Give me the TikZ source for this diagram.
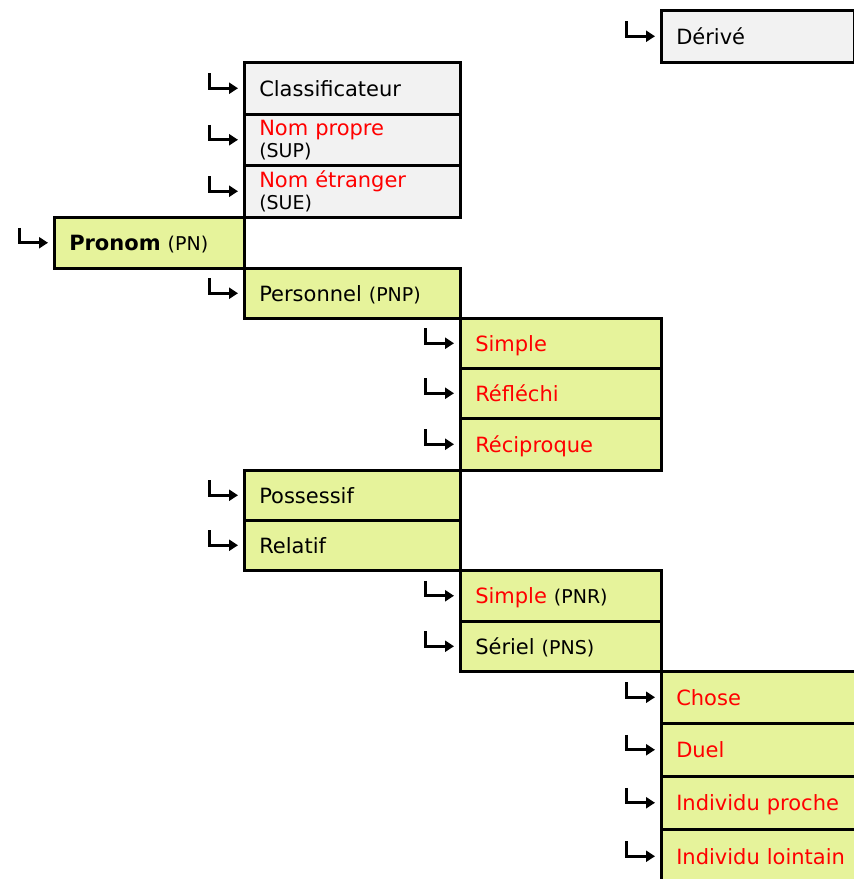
\documentclass[tikz,border=0pt]{standalone}
\usepackage{fontspec}
\setmainfont{DejaVu Sans}
\usepackage{tikz}
\usetikzlibrary{arrows.meta}

\definecolor{gris}{HTML}{F2F2F2}
\definecolor{vert}{HTML}{E6F39B}
\newcommand{\sigle}[1]{{\fontsize{19}{21}\selectfont #1}}
\newcommand{\rouge}[1]{\textcolor{red}{#1}}

\tikzset{
  cell/.style={draw, line width=2.5pt, anchor=north west, inner xsep=15pt, inner ysep=0pt,
    align=left, text height=17pt, text depth=1pt, font=\fontsize{21}{22}\selectfont},
  hook/.style={line width=3pt, -{Triangle[length=9pt,width=11pt]}}
}

\begin{document}
\begin{tikzpicture}[x=1pt,y=-1pt]
        \useasboundingbox (0,0) rectangle (854,879);

        \node[cell, fill=gris, text width=163pt, minimum height=52pt] (der) at (660,9) {Dérivé};
        \node[cell, fill=gris, text width=186pt, minimum height=52pt] (cls) at (243,61) {Classificateur};
        \node[cell, fill=gris, text width=186pt, minimum height=51pt, text height=, text depth=] (sup) at (243,113) {\rouge{Nom propre}\\\sigle{(SUP)}};
        \node[cell, fill=gris, text width=186pt, minimum height=52pt, text height=, text depth=] (sue) at (243,164) {\rouge{Nom étranger}\\\sigle{(SUE)}};
        \node[cell, fill=vert, text width=160pt, minimum height=51pt] (pn) at (53,216) {\textbf{Pronom} \sigle{(PN)}};
        \node[cell, fill=vert, text width=186pt, minimum height=50pt] (pnp) at (243,267) {Personnel \sigle{(PNP)}};
        \node[cell, fill=vert, text width=171pt, minimum height=50pt] (smp) at (459,317) {\rouge{Simple}};
        \node[cell, fill=vert, text width=171pt, minimum height=50pt] (ref) at (459,367) {\rouge{Réfléchi}};
        \node[cell, fill=vert, text width=171pt, minimum height=52pt] (rec) at (459,417) {\rouge{Réciproque}};
        \node[cell, fill=vert, text width=186pt, minimum height=50pt] (pos) at (243,469) {Possessif};
        \node[cell, fill=vert, text width=186pt, minimum height=50pt] (rel) at (243,519) {Relatif};
        \node[cell, fill=vert, text width=171pt, minimum height=51pt] (pnr) at (459,569) {\rouge{Simple} \sigle{(PNR)}};
        \node[cell, fill=vert, text width=171pt, minimum height=50pt] (pns) at (459,620) {Sériel \sigle{(PNS)}};
        \node[cell, fill=vert, text width=180pt, minimum height=52pt] (cho) at (660,670) {\rouge{Chose}};
        \node[cell, fill=vert, text width=180pt, minimum height=53pt] (due) at (660,722) {\rouge{Duel}};
        \node[cell, fill=vert, text width=180pt, minimum height=53pt] (ipr) at (660,775) {\rouge{Individu proche}};
        \node[cell, fill=vert, text width=180pt, minimum height=54pt] (ilo) at (660,828) {\rouge{Individu lointain}};

        % fleches
        \foreach \n in {der,cls,sup,sue,pn,pnp,smp,ref,rec,pos,rel,pnr,pns,cho,due,ipr,ilo}
          \draw[hook] ([xshift=-34pt,yshift=15pt]\n.west) |- ([xshift=-5pt]\n.west);
\end{tikzpicture}
\end{document}
